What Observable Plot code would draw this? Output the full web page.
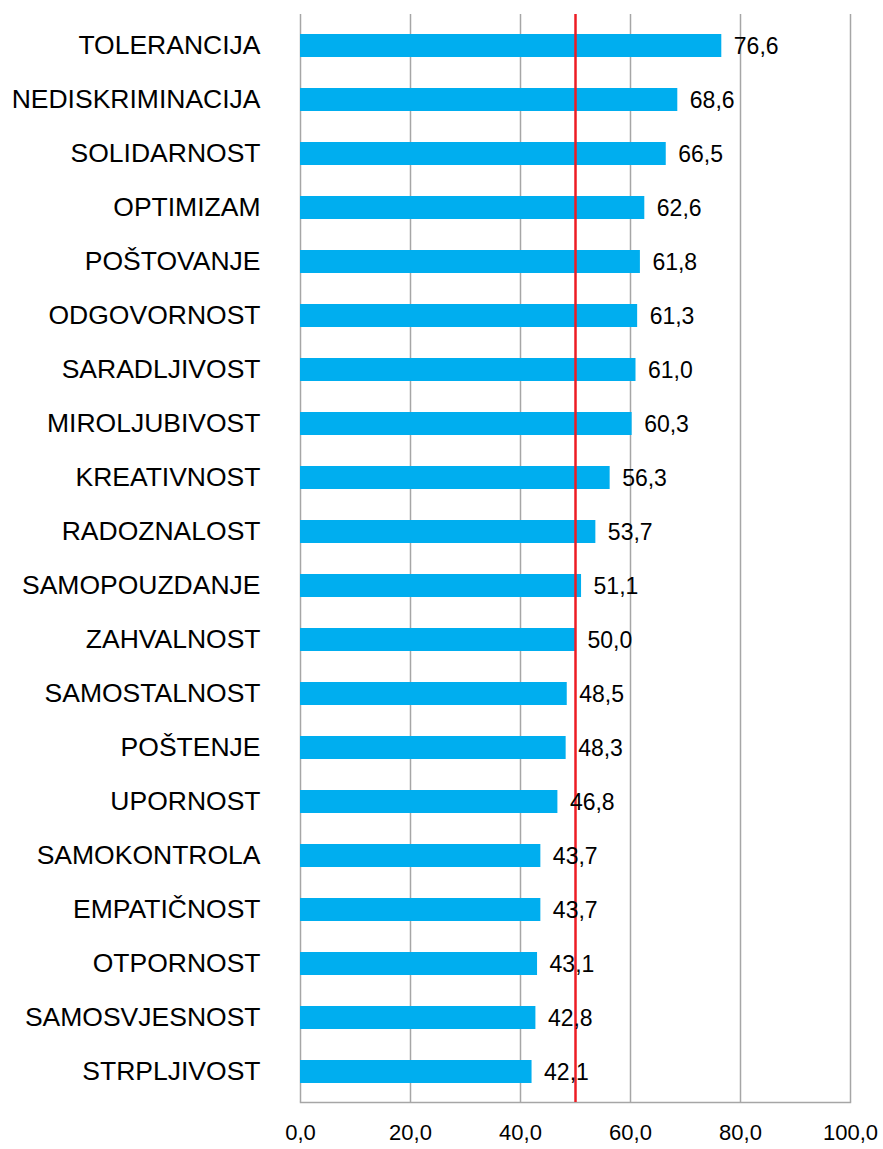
<!DOCTYPE html>
<html>
<head>
<meta charset="utf-8">
<script src="https://cdn.jsdelivr.net/npm/d3@7"></script>
<script src="https://cdn.jsdelivr.net/npm/@observablehq/plot@0.6"></script>
<style>
  html, body { margin: 0; padding: 0; background: #fff; }
  #chart svg { display: block; }
</style>
</head>
<body>
<div id="chart"></div>
<script>
const categories = [
  "TOLERANCIJA", "NEDISKRIMINACIJA", "SOLIDARNOST", "OPTIMIZAM", "POŠTOVANJE",
  "ODGOVORNOST", "SARADLJIVOST", "MIROLJUBIVOST", "KREATIVNOST", "RADOZNALOST",
  "SAMOPOUZDANJE", "ZAHVALNOST", "SAMOSTALNOST", "POŠTENJE", "UPORNOST",
  "SAMOKONTROLA", "EMPATIČNOST", "OTPORNOST", "SAMOSVJESNOST", "STRPLJIVOST"
];
const values = [
  76.6, 68.6, 66.5, 62.6, 61.8,
  61.3, 61.0, 60.3, 56.3, 53.7,
  51.1, 50.0, 48.5, 48.3, 46.8,
  43.7, 43.7, 43.1, 42.8, 42.1
];
const xTicks = [0, 20, 40, 60, 80, 100];
const referenceValue = [50];

const data = categories.map((c, i) => ({label: c, value: values[i]}));
const fmt = v => v.toFixed(1).replace(".", ",");

const chart = Plot.plot({
  width: 883,
  height: 1149,
  marginTop: 14,
  marginBottom: 47,
  marginLeft: 300,
  marginRight: 33,
  style: {fontFamily: "Liberation Sans, Arial, sans-serif", color: "#000", background: "#fff"},
  x: {domain: [0, 100], ticks: xTicks, label: null},
  y: {domain: categories, range: [17, 1099], paddingInner: 0.58, paddingOuter: 0.29, label: null},
  marks: [
    Plot.ruleX(xTicks, {y1: null, y2: null, stroke: "#a6a6a6", strokeWidth: 1.5}),
    Plot.frame({anchor: "bottom", stroke: "#a6a6a6", strokeWidth: 1.5}),
    Plot.barX(data, {x: "value", y: "label", fill: "#00AEEF"}),
    Plot.ruleX(referenceValue, {stroke: "#ED1C24", strokeWidth: 2.5}),
    Plot.text(data, {x: "value", y: "label", text: d => fmt(d.value), dx: 12, dy: 1, textAnchor: "start", fontSize: 23, fill: "#000"}),
    Plot.axisX({ticks: xTicks, tickFormat: fmt, tickSize: 0, tickPadding: 22, fontSize: 22, label: null}),
    Plot.axisY({tickSize: 0, tickPadding: 40, fontSize: 26.5, label: null})
  ]
});
document.getElementById("chart").appendChild(chart);
</script>
</body>
</html>
